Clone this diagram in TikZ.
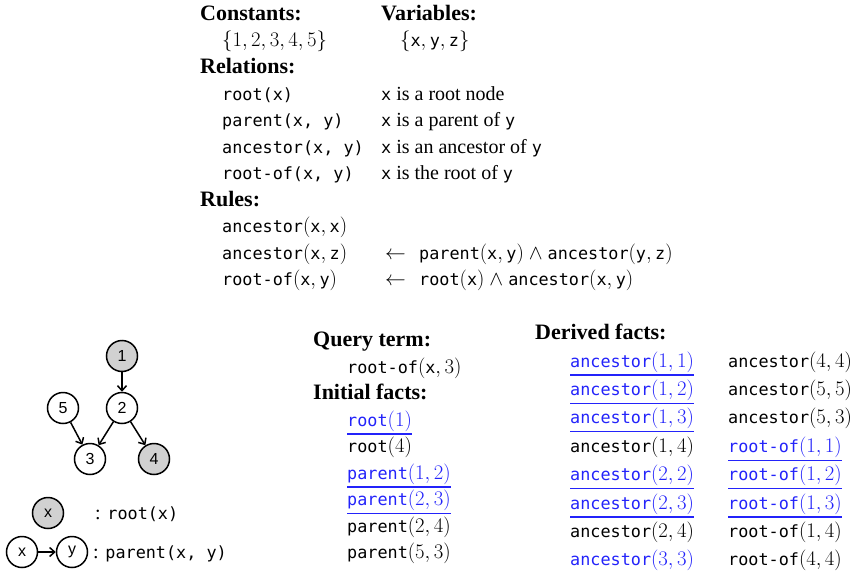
\documentclass[tikz,border=0pt]{standalone}
\usepackage{fontspec}
\setmainfont{Liberation Serif}
\setmonofont[Scale=0.84]{DejaVu Sans Mono}
\newfontfamily\graphfont{Liberation Sans}
\usetikzlibrary{arrows.meta}

\definecolor{hitblue}{RGB}{35,35,250}

% headings and atoms
\newcommand{\hd}[1]{{\fontsize{22}{26}\selectfont\bfseries #1}}
\newcommand{\atom}[2]{\texttt{#1}$(#2)$}
\newcommand{\vx}{\mathtt{x}}
\newcommand{\vy}{\mathtt{y}}
\newcommand{\vz}{\mathtt{z}}

\begin{document}
\begin{tikzpicture}[x=1pt,y=-1pt,
    font=\fontsize{20}{24}\selectfont,
    txt/.style={anchor=base west,inner sep=0pt},
    hit/.style={txt,text=hitblue},
    vert/.style={circle,draw,line width=1.5pt,minimum size=31pt,inner sep=0pt,
      font=\fontsize{16}{18}\graphfont},
    rootv/.style={vert,fill=black!18},
    edge/.style={-{Straight Barb[length=5pt,width=9pt]},line width=1.5pt},
    uline/.style={hitblue,line width=1.2pt}]
  \useasboundingbox (0,0) rectangle (859,578);

  % signature
  \node[txt] (hconst) at (200,20.5) {\hd{Constants:}};
  \node[txt] (hvar)   at (381,20.5) {\hd{Variables:}};
  \node[txt] (consts) at (222,47) {$\{1,2,3,4,5\}$};
  \node[txt] (vars)   at (400,47) {$\{\vx,\vy,\vz\}$};
  \node[txt] (hrel)   at (200,73.5) {\hd{Relations:}};
  \node[txt] (rroot)  at (222,100)   {\texttt{root(x)}};
  \node[txt] (rpar)   at (222,126.5) {\texttt{parent(x, y)}};
  \node[txt] (ranc)   at (222,153)   {\texttt{ancestor(x, y)}};
  \node[txt] (rrof)   at (222,179.5) {\texttt{root-of(x, y)}};
  \node[txt] (droot)  at (381,100)   {\texttt{x} is a root node};
  \node[txt] (dpar)   at (381,126.5) {\texttt{x} is a parent of \texttt{y}};
  \node[txt] (danc)   at (381,153)   {\texttt{x} is an ancestor of \texttt{y}};
  \node[txt] (drof)   at (381,179.5) {\texttt{x} is the root of \texttt{y}};

  % rules
  \node[txt] (hrule)  at (200,206) {\hd{Rules:}};
  \node[txt] (rule1)  at (222,232.5) {\atom{ancestor}{\vx,\vx}};
  \node[txt] (rule2)  at (222,259)   {\atom{ancestor}{\vx,\vz}};
  \node[txt] (rule3)  at (222,285.5) {\atom{root-of}{\vx,\vy}};
  \node[txt] (imp2)   at (385,259)   {$\leftarrow$};
  \node[txt] (imp3)   at (385,285.5) {$\leftarrow$};
  \node[txt] (body2)  at (419,259)   {\atom{parent}{\vx,\vy} $\wedge$ \atom{ancestor}{\vy,\vz}};
  \node[txt] (body3)  at (419,285.5) {\atom{root}{\vx} $\wedge$ \atom{ancestor}{\vx,\vy}};

  % the tree
  \node[rootv] (n1) at (122,356) {1};
  \node[vert]  (n2) at (122,408) {2};
  \node[vert]  (n5) at (63,408)  {5};
  \node[vert]  (n3) at (90,459)  {3};
  \node[rootv] (n4) at (154,459) {4};
  \draw[edge] (n1) -- (n2);
  \draw[edge] (n5) -- (n3);
  \draw[edge] (n2) -- (n3);
  \draw[edge] (n2) -- (n4);

  % legend
  \node[rootv] (lx)    at (48,513) {x};
  \node[txt]   (lroot) at (95,519) {: \texttt{root(x)}};
  \node[vert]  (lpx)   at (22,552) {x};
  \node[vert]  (lpy)   at (72,552) {y};
  \draw[edge] (lpx) -- (lpy);
  \node[txt]   (lpar)  at (93,558) {: \texttt{parent(x, y)}};

  % query and initial facts
  \node[txt] (hquery) at (313,346.5) {\hd{Query term:}};
  \node[txt] (query)  at (347,373)   {\atom{root-of}{\vx,3}};
  \node[txt] (hinit)  at (313,399.5) {\hd{Initial facts:}};
  \node[hit] (i1) at (347,426)   {\atom{root}{1}};
  \node[txt] (i2) at (347,452.5) {\atom{root}{4}};
  \node[hit] (i3) at (347,479)   {\atom{parent}{1,2}};
  \node[hit] (i4) at (347,505.5) {\atom{parent}{2,3}};
  \node[txt] (i5) at (347,532)   {\atom{parent}{2,4}};
  \node[txt] (i6) at (347,558.5) {\atom{parent}{5,3}};

  % derived facts
  \node[txt] (hderiv) at (535,339) {\hd{Derived facts:}};
  \node[hit] (a1) at (570,367)   {\atom{ancestor}{1,1}};
  \node[hit] (a2) at (570,395.4) {\atom{ancestor}{1,2}};
  \node[hit] (a3) at (570,423.8) {\atom{ancestor}{1,3}};
  \node[txt] (a4) at (570,452.2) {\atom{ancestor}{1,4}};
  \node[hit] (a5) at (570,480.6) {\atom{ancestor}{2,2}};
  \node[hit] (a6) at (570,509)   {\atom{ancestor}{2,3}};
  \node[txt] (a7) at (570,537.4) {\atom{ancestor}{2,4}};
  \node[hit] (a8) at (570,565.8) {\atom{ancestor}{3,3}};
  \node[txt] (b1) at (728,367)   {\atom{ancestor}{4,4}};
  \node[txt] (b2) at (728,395.4) {\atom{ancestor}{5,5}};
  \node[txt] (b3) at (728,423.8) {\atom{ancestor}{5,3}};
  \node[hit] (b4) at (728,452.2) {\atom{root-of}{1,1}};
  \node[hit] (b5) at (728,480.6) {\atom{root-of}{1,2}};
  \node[hit] (b6) at (728,509)   {\atom{root-of}{1,3}};
  \node[txt] (b7) at (728,537.4) {\atom{root-of}{1,4}};
  \node[txt] (b8) at (728,565.8) {\atom{root-of}{4,4}};

  % underline the facts used in the proof
  \foreach \f in {i1,i3,i4,a1,a2,a3,a5,a6,b4,b5,b6}
    \draw[uline] ([yshift=-8pt]\f.base west) -- ([yshift=-8pt]\f.base east);
\end{tikzpicture}
\end{document}
